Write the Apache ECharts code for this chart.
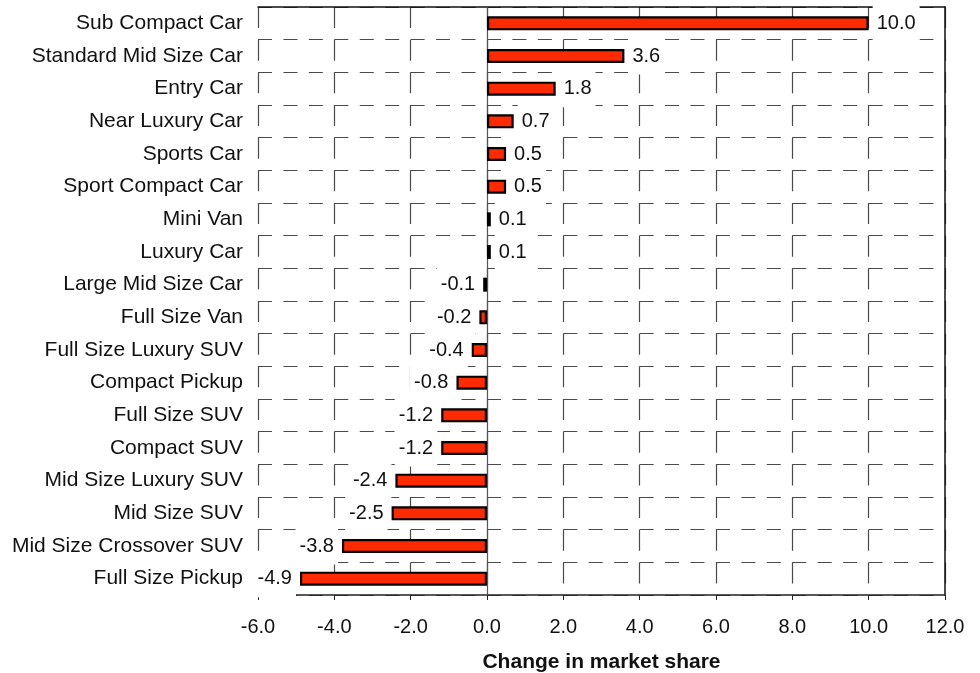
<!DOCTYPE html>
<html>
<head>
<meta charset="utf-8">
<script src="https://cdn.jsdelivr.net/npm/echarts@6/dist/echarts.min.js"></script>
<style>
  html, body { margin: 0; padding: 0; background: #fff; }
  #chart { width: 980px; height: 673px; }
</style>
</head>
<body>
<div id="chart"></div>
<script>
// Vehicle segments, top to bottom
const categories = [
  'Sub Compact Car', 'Standard Mid Size Car', 'Entry Car', 'Near Luxury Car',
  'Sports Car', 'Sport Compact Car', 'Mini Van', 'Luxury Car',
  'Large Mid Size Car', 'Full Size Van', 'Full Size Luxury SUV', 'Compact Pickup',
  'Full Size SUV', 'Compact SUV', 'Mid Size Luxury SUV', 'Mid Size SUV',
  'Mid Size Crossover SUV', 'Full Size Pickup'
];
// Change in market share per segment
const shareChange = [
  10.0, 3.6, 1.8, 0.7,
  0.5, 0.5, 0.1, 0.1,
  -0.1, -0.2, -0.4, -0.8,
  -1.2, -1.2, -2.4, -2.5,
  -3.8, -4.9
];
const xMin = -6, xMax = 12, xStep = 2;
const axisTitle = 'Change in market share';

const FONT = "'Liberation Sans', Arial, Helvetica, sans-serif";
const GRID_COLOR = '#4a4a4a';
const chart = echarts.init(document.getElementById('chart'), null, { renderer: 'canvas' });

// negative bars get their value label on the left side
const barData = shareChange.map(v => ({
  value: v,
  label: { position: v < 0 ? 'left' : 'right' }
}));

chart.setOption({
  animation: false,
  grid: { left: 258, right: 35, top: 7, bottom: 78, containLabel: false, outerBoundsMode: 'none' },
  xAxis: [{
    type: 'value',
    min: xMin, max: xMax, interval: xStep,
    position: 'bottom',
    axisLine: { show: true, onZero: false, lineStyle: { color: '#222', width: 1.5 } },
    axisTick: { show: true, length: 5, lineStyle: { color: '#222', width: 1 } },
    axisLabel: {
      margin: 22, color: '#111', fontSize: 20, fontFamily: FONT,
      formatter: v => v.toFixed(1)
    },
    splitLine: { show: true, lineStyle: { color: GRID_COLOR, width: 1.2, type: [21, 11.67] } },
    name: axisTitle, nameLocation: 'middle', nameGap: 57,
    nameTextStyle: { color: '#111', fontSize: 21, fontWeight: 'bold', fontFamily: FONT }
  }, {
    // top frame line
    type: 'value',
    min: xMin, max: xMax, interval: xStep,
    position: 'top',
    axisLine: { show: true, onZero: false, lineStyle: { color: '#111', width: 1.5 } },
    axisTick: { show: false }, axisLabel: { show: false }, splitLine: { show: false }
  }],
  yAxis: [{
    type: 'category',
    data: categories,
    inverse: true,
    axisLine: { show: false },
    axisTick: { show: false },
    axisLabel: { margin: 15, color: '#111', fontSize: 21, fontFamily: FONT },
    splitLine: { show: true, lineStyle: { color: GRID_COLOR, width: 1.2, type: [14, 11.44] } }
  }, {
    // right frame line
    type: 'category',
    data: categories,
    inverse: true,
    position: 'right',
    axisLine: { show: true, onZero: false, lineStyle: { color: '#111', width: 1.5 } },
    axisTick: { show: false }, axisLabel: { show: false }, splitLine: { show: false }
  }],
  series: [{
    type: 'bar',
    xAxisIndex: 0, yAxisIndex: 0,
    data: barData,
    barWidth: 14,
    itemStyle: { color: '#ff2a00', borderColor: '#000', borderWidth: 2.2 },
    label: {
      show: true, distance: 4,
      color: '#111', fontSize: 20, fontFamily: FONT,
      backgroundColor: '#fff', padding: [9, 4, 8, 4],
      formatter: p => p.value.toFixed(1)
    },
    markLine: {
      silent: true, symbol: 'none', label: { show: false },
      lineStyle: { color: '#555', width: 1.2, type: 'solid' },
      data: [{ xAxis: 0 }],
      z: 1
    }
  }]
});
</script>
</body>
</html>
